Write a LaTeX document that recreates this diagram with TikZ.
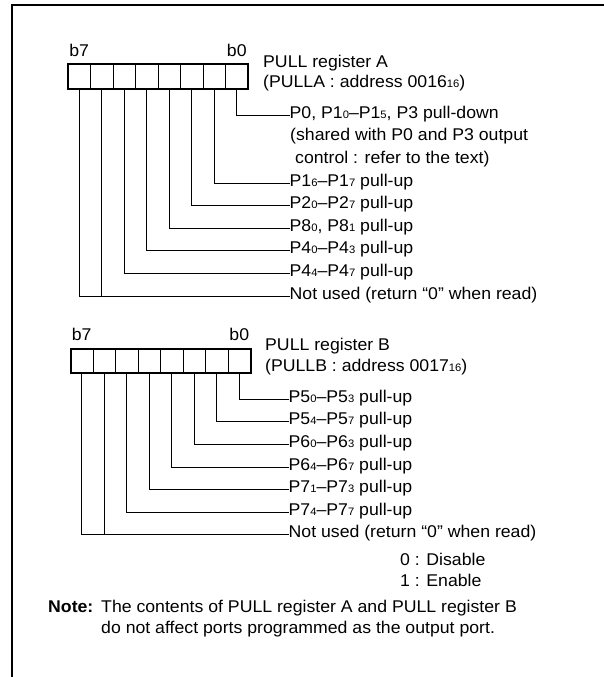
\documentclass[tikz,border=0pt]{standalone}
\usepackage{fontspec}
\setmainfont{Liberation Sans}[FakeStretch=1.04]
\usetikzlibrary{positioning}
\newcommand{\lo}[1]{{\fontsize{10.8}{10}\selectfont #1}}

\begin{document}
\begin{tikzpicture}[
        x=1pt, y=-1pt,
        font=\fontsize{17}{20}\selectfont,
        % Styles
        regcell/.style={draw=black, line width=0.9pt, minimum width=22.5pt, minimum height=24pt, inner sep=0pt, outer sep=0pt},
        regbox/.style={draw=black, line width=2pt},
        bitname/.style={inner sep=0pt},
        portname/.style={anchor=west, inner sep=0pt, text height=11pt, text depth=5pt},
        wire/.style={draw=black, line width=1pt},
        pageedge/.style={draw=black, line width=2pt}
    ]
    \useasboundingbox (0,0) rectangle (604,677);

    % ================= PAGE EDGE =================
    \draw[pageedge] (12,677) -- (12,5) -- (604,5);

    % ================= REGISTER A =================
    \node[regcell] (ra7) at (79.25,76.5) {};
    \node[regcell] (ra6) at (101.75,76.5) {};
    \node[regcell] (ra5) at (124.25,76.5) {};
    \node[regcell] (ra4) at (146.75,76.5) {};
    \node[regcell] (ra3) at (169.25,76.5) {};
    \node[regcell] (ra2) at (191.75,76.5) {};
    \node[regcell] (ra1) at (214.25,76.5) {};
    \node[regcell] (ra0) at (236.75,76.5) {};
    \draw[regbox] (ra7.north west) rectangle (ra0.south east);

    \node[bitname] (ra7lbl) at (79.25,50) {b7};
    \node[bitname] (ra0lbl) at (236.75,50) {b0};
    \node[portname] (titleA) at (263,64) {PULL register A};
    \node[portname] (addrA) at (263,85) {(PULLA : address 0016\lo{16})};

    % one label per bit, b0 has three lines
    \node[portname] (pdA) at (289.5,115.2) {P0, P1\lo{0}–P1\lo{5}, P3 pull-down};
    \node[portname] (sharedA) at (290,137.8) {(shared with P0 and P3 output};
    \node[portname] (controlA) at (295,160.4) {control : refer to the text)};
    \node[portname] (p16A) at (289.5,183) {P1\lo{6}–P1\lo{7} pull-up};
    \node[portname] (p20A) at (289.5,205.6) {P2\lo{0}–P2\lo{7} pull-up};
    \node[portname] (p80A) at (289.5,228.2) {P8\lo{0}, P8\lo{1} pull-up};
    \node[portname] (p40A) at (289.5,250.8) {P4\lo{0}–P4\lo{3} pull-up};
    \node[portname] (p44A) at (289.5,273.4) {P4\lo{4}–P4\lo{7} pull-up};
    \node[portname] (unusedA) at (289.5,296) {Not used (return “0” when read)};

    \draw[wire] (ra0.south) |- (pdA.west);
    \draw[wire] (ra1.south) |- (p16A.west);
    \draw[wire] (ra2.south) |- (p20A.west);
    \draw[wire] (ra3.south) |- (p80A.west);
    \draw[wire] (ra4.south) |- (p40A.west);
    \draw[wire] (ra5.south) |- (p44A.west);
    \draw[wire] (ra7.south) |- (unusedA.west);
    \draw[wire] (ra6.south) -- (ra6.south |- unusedA.west);

    % ================= REGISTER B =================
    \node[regcell] (rb7) at (81.75,360.5) {};
    \node[regcell] (rb6) at (104.25,360.5) {};
    \node[regcell] (rb5) at (126.75,360.5) {};
    \node[regcell] (rb4) at (149.25,360.5) {};
    \node[regcell] (rb3) at (171.75,360.5) {};
    \node[regcell] (rb2) at (194.25,360.5) {};
    \node[regcell] (rb1) at (216.75,360.5) {};
    \node[regcell] (rb0) at (239.25,360.5) {};
    \draw[regbox] (rb7.north west) rectangle (rb0.south east);

    \node[bitname] (rb7lbl) at (81.75,334) {b7};
    \node[bitname] (rb0lbl) at (239.25,334) {b0};
    \node[portname] (titleB) at (265,347) {PULL register B};
    \node[portname] (addrB) at (265,368) {(PULLB : address 0017\lo{16})};

    \node[portname] (p50B) at (288.5,399.3) {P5\lo{0}–P5\lo{3} pull-up};
    \node[portname] (p54B) at (288.5,421.9) {P5\lo{4}–P5\lo{7} pull-up};
    \node[portname] (p60B) at (288.5,444.5) {P6\lo{0}–P6\lo{3} pull-up};
    \node[portname] (p64B) at (288.5,467.1) {P6\lo{4}–P6\lo{7} pull-up};
    \node[portname] (p71B) at (288.5,489.7) {P7\lo{1}–P7\lo{3} pull-up};
    \node[portname] (p74B) at (288.5,512.3) {P7\lo{4}–P7\lo{7} pull-up};
    \node[portname] (unusedB) at (288.5,534.9) {Not used (return “0” when read)};

    \draw[wire] (rb0.south) |- (p50B.west);
    \draw[wire] (rb1.south) |- (p54B.west);
    \draw[wire] (rb2.south) |- (p60B.west);
    \draw[wire] (rb3.south) |- (p64B.west);
    \draw[wire] (rb4.south) |- (p71B.west);
    \draw[wire] (rb5.south) |- (p74B.west);
    \draw[wire] (rb7.south) |- (unusedB.west);
    \draw[wire] (rb6.south) -- (rb6.south |- unusedB.west);

    % ================= LEGEND AND NOTE =================
    \node[portname] (dis) at (400,562) {0 : Disable};
    \node[portname] (ena) at (400,583) {1 : Enable};

    \node[portname, font=\fontsize{17}{20}\selectfont\bfseries] (notehead) at (48,609) {Note:};
    \node[portname] (notebody1) at (101,609) {The contents of PULL register A and PULL register B};
    \node[portname] (notebody2) at (101,630) {do not affect ports programmed as the output port.};

    \end{tikzpicture}
\end{document}
